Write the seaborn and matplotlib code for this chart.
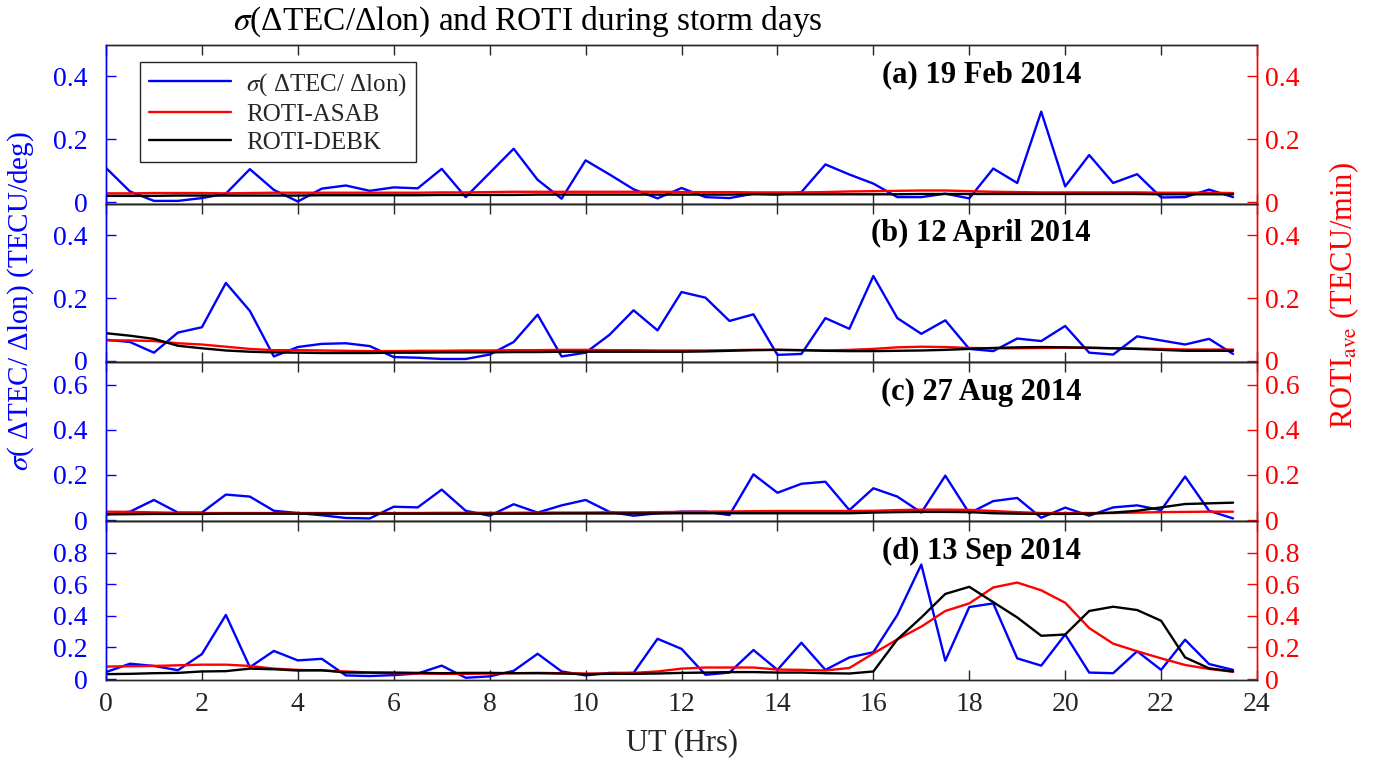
import numpy as np
import pandas as pd
import matplotlib
matplotlib.use("Agg")
import matplotlib.pyplot as plt
from matplotlib.ticker import FuncFormatter
import seaborn as sns

# UT in hours (30-min bins)
ut = [0.0, 0.5, 1.0, 1.5, 2.0, 2.5, 3.0, 3.5, 4.0, 4.5, 5.0, 5.5,
      6.0, 6.5, 7.0, 7.5, 8.0, 8.5, 9.0, 9.5, 10.0, 10.5, 11.0, 11.5,
      12.0, 12.5, 13.0, 13.5, 14.0, 14.5, 15.0, 15.5, 16.0, 16.5, 17.0, 17.5,
      18.0, 18.5, 19.0, 19.5, 20.0, 20.5, 21.0, 21.5, 22.0, 22.5, 23.0, 23.5]

panel_titles = ["(a) 19 Feb 2014", "(b) 12 April 2014", "(c) 27 Aug 2014", "(d) 13 Sep 2014"]

# (a) 19 Feb 2014
sigma_a = [0.109, 0.034, 0.004, 0.004, 0.013, 0.027, 0.105, 0.039, 0.002, 0.043, 0.053, 0.036,
           0.047, 0.044, 0.106, 0.016, 0.093, 0.170, 0.071, 0.011, 0.133, 0.088, 0.041, 0.012,
           0.045, 0.016, 0.013, 0.027, 0.024, 0.032, 0.120, 0.088, 0.059, 0.016, 0.016, 0.027,
           0.012, 0.107, 0.061, 0.288, 0.050, 0.150, 0.061, 0.089, 0.015, 0.016, 0.040, 0.016]
asab_a = [0.028, 0.028, 0.029, 0.029, 0.029, 0.028, 0.029, 0.030, 0.030, 0.030, 0.030, 0.030,
          0.030, 0.030, 0.031, 0.031, 0.032, 0.033, 0.033, 0.033, 0.033, 0.033, 0.033, 0.033,
          0.032, 0.032, 0.032, 0.031, 0.031, 0.031, 0.032, 0.034, 0.035, 0.036, 0.037, 0.037,
          0.035, 0.033, 0.032, 0.031, 0.031, 0.031, 0.031, 0.031, 0.030, 0.030, 0.030, 0.029]
debk_a = [0.020, 0.020, 0.020, 0.021, 0.021, 0.021, 0.021, 0.021, 0.021, 0.022, 0.022, 0.022,
          0.022, 0.022, 0.023, 0.023, 0.023, 0.023, 0.024, 0.024, 0.024, 0.024, 0.024, 0.024,
          0.024, 0.024, 0.024, 0.025, 0.025, 0.025, 0.025, 0.025, 0.025, 0.025, 0.026, 0.026,
          0.026, 0.026, 0.026, 0.026, 0.026, 0.026, 0.026, 0.026, 0.025, 0.025, 0.025, 0.025]

# (b) 12 April 2014
sigma_b = [0.067, 0.060, 0.026, 0.090, 0.107, 0.248, 0.159, 0.014, 0.044, 0.054, 0.056, 0.047,
           0.012, 0.010, 0.006, 0.006, 0.020, 0.060, 0.147, 0.014, 0.026, 0.083, 0.161, 0.097,
           0.219, 0.201, 0.127, 0.148, 0.019, 0.022, 0.136, 0.102, 0.270, 0.136, 0.086, 0.129,
           0.038, 0.031, 0.071, 0.063, 0.111, 0.026, 0.020, 0.078, 0.065, 0.052, 0.070, 0.022]
asab_b = [0.065, 0.065, 0.063, 0.056, 0.052, 0.045, 0.038, 0.034, 0.034, 0.033, 0.032, 0.031,
          0.031, 0.032, 0.032, 0.033, 0.033, 0.034, 0.034, 0.035, 0.035, 0.034, 0.034, 0.033,
          0.033, 0.033, 0.034, 0.035, 0.035, 0.034, 0.033, 0.035, 0.038, 0.043, 0.045, 0.044,
          0.041, 0.040, 0.040, 0.041, 0.042, 0.041, 0.040, 0.039, 0.038, 0.036, 0.036, 0.036]
debk_b = [0.088, 0.080, 0.070, 0.048, 0.040, 0.033, 0.029, 0.027, 0.026, 0.025, 0.025, 0.025,
          0.026, 0.026, 0.027, 0.027, 0.027, 0.028, 0.028, 0.029, 0.029, 0.029, 0.029, 0.029,
          0.029, 0.030, 0.032, 0.034, 0.035, 0.034, 0.032, 0.031, 0.031, 0.032, 0.033, 0.035,
          0.038, 0.041, 0.043, 0.044, 0.043, 0.042, 0.040, 0.038, 0.035, 0.032, 0.032, 0.032]

# (c) 27 Aug 2014
sigma_c = [0.025, 0.037, 0.089, 0.033, 0.033, 0.113, 0.104, 0.041, 0.031, 0.021, 0.009, 0.007,
           0.059, 0.056, 0.135, 0.041, 0.019, 0.070, 0.033, 0.065, 0.089, 0.036, 0.019, 0.030,
           0.037, 0.037, 0.022, 0.203, 0.121, 0.161, 0.170, 0.044, 0.141, 0.104, 0.033, 0.197,
           0.030, 0.084, 0.098, 0.010, 0.055, 0.019, 0.056, 0.065, 0.044, 0.193, 0.041, 0.007]
asab_c = [0.037, 0.036, 0.034, 0.032, 0.031, 0.031, 0.031, 0.031, 0.031, 0.031, 0.031, 0.031,
          0.031, 0.031, 0.032, 0.032, 0.032, 0.032, 0.033, 0.033, 0.033, 0.034, 0.034, 0.035,
          0.036, 0.037, 0.038, 0.039, 0.040, 0.040, 0.040, 0.040, 0.041, 0.044, 0.046, 0.046,
          0.045, 0.040, 0.035, 0.031, 0.031, 0.031, 0.031, 0.033, 0.035, 0.036, 0.037, 0.037]
debk_c = [0.025, 0.026, 0.027, 0.027, 0.027, 0.028, 0.028, 0.028, 0.028, 0.028, 0.028, 0.028,
          0.028, 0.028, 0.028, 0.028, 0.028, 0.028, 0.028, 0.029, 0.029, 0.029, 0.029, 0.029,
          0.030, 0.030, 0.030, 0.030, 0.030, 0.030, 0.030, 0.030, 0.033, 0.035, 0.036, 0.036,
          0.035, 0.030, 0.028, 0.027, 0.027, 0.028, 0.033, 0.041, 0.056, 0.071, 0.074, 0.077]

# (d) 13 Sep 2014
sigma_d = [0.044, 0.097, 0.083, 0.056, 0.158, 0.406, 0.075, 0.178, 0.118, 0.128, 0.023, 0.019,
           0.025, 0.035, 0.085, 0.008, 0.017, 0.052, 0.160, 0.048, 0.023, 0.039, 0.039, 0.255,
           0.191, 0.027, 0.041, 0.184, 0.058, 0.230, 0.058, 0.137, 0.170, 0.406, 0.725, 0.116,
           0.456, 0.479, 0.131, 0.085, 0.282, 0.041, 0.037, 0.176, 0.058, 0.249, 0.095, 0.058]
asab_d = [0.079, 0.081, 0.083, 0.087, 0.091, 0.091, 0.083, 0.066, 0.058, 0.054, 0.048, 0.041,
          0.037, 0.035, 0.033, 0.033, 0.035, 0.037, 0.039, 0.037, 0.035, 0.035, 0.039, 0.048,
          0.066, 0.073, 0.073, 0.073, 0.060, 0.058, 0.054, 0.070, 0.162, 0.251, 0.332, 0.431,
          0.479, 0.580, 0.611, 0.562, 0.483, 0.323, 0.224, 0.176, 0.131, 0.089, 0.064, 0.046]
debk_d = [0.031, 0.033, 0.037, 0.039, 0.048, 0.050, 0.066, 0.062, 0.054, 0.056, 0.041, 0.041,
          0.041, 0.039, 0.037, 0.039, 0.039, 0.037, 0.037, 0.035, 0.031, 0.033, 0.033, 0.035,
          0.039, 0.041, 0.044, 0.044, 0.041, 0.041, 0.037, 0.035, 0.048, 0.251, 0.390, 0.539,
          0.584, 0.487, 0.390, 0.274, 0.282, 0.431, 0.458, 0.437, 0.369, 0.137, 0.068, 0.048]

y_tops = [0.5, 0.5, 0.7, 1.0]
y_ticks = [[0, 0.2, 0.4], [0, 0.2, 0.4], [0, 0.2, 0.4, 0.6], [0, 0.2, 0.4, 0.6, 0.8]]
x_ticks = [0, 2, 4, 6, 8, 10, 12, 14, 16, 18, 20, 22, 24]

sigma_list = [sigma_a, sigma_b, sigma_c, sigma_d]
asab_list = [asab_a, asab_b, asab_c, asab_d]
debk_list = [debk_a, debk_b, debk_c, debk_d]

sns.set_theme(style="white")
plt.rcParams['font.family'] = ['Liberation Serif', 'DejaVu Serif']
plt.rcParams['mathtext.fontset'] = 'stix'

BLUE = '#0000ff'
RED = '#ff0000'
AXC = '#262626'
TICK_FS = 20

fmt = FuncFormatter(lambda v, p: '0' if abs(v) < 1e-9 else f'{v:.1f}')

fig, axes = plt.subplots(4, 1, figsize=(13.89, 7.63), dpi=100, sharex=True)
fig.subplots_adjust(left=0.0763, right=0.905, top=0.941, bottom=0.109, hspace=0)

sig_lbl = r'$\sigma$( ΔTEC/ Δlon)'
for i, ax in enumerate(axes):
    df = pd.DataFrame({"UT": ut, "sigma": sigma_list[i], "ASAB": asab_list[i], "DEBK": debk_list[i]})
    tw = ax.twinx()
    sns.lineplot(data=df, x="UT", y="sigma", ax=ax, color=BLUE, lw=1.7, label=sig_lbl)
    sns.lineplot(data=df, x="UT", y="ASAB", ax=tw, color=RED, lw=1.7, label='ROTI-ASAB')
    sns.lineplot(data=df, x="UT", y="DEBK", ax=tw, color='black', lw=1.7, label='ROTI-DEBK')
    for a in (ax, tw):
        if a.get_legend() is not None:
            a.get_legend().remove()
        a.set_ylim(-0.005, y_tops[i])
        a.set_yticks(y_ticks[i])
        a.yaxis.set_major_formatter(fmt)
        a.set_ylabel('')
        a.set_xlabel('')
    ax.set_xlim(0, 24)
    ax.set_xticks(x_ticks)
    ax.tick_params(axis='x', direction='in', top=True, bottom=True, length=7, width=1,
                   color=AXC, labelcolor=AXC, labelsize=TICK_FS, pad=9)
    ax.tick_params(axis='y', direction='in', length=7, width=1, color=BLUE,
                   labelcolor=BLUE, labelsize=TICK_FS, pad=13)
    tw.tick_params(axis='y', direction='in', length=7, width=1, color=RED,
                   labelcolor=RED, labelsize=TICK_FS, pad=6)
    for a in (ax, tw):
        a.spines['top'].set_color(AXC)
        a.spines['bottom'].set_color(AXC)
        a.spines['left'].set_color(BLUE)
        a.spines['right'].set_color(RED)
        for s in a.spines.values():
            s.set_linewidth(1.0)
    tw.text(18.25, 0.81, panel_titles[i], transform=ax.get_xaxis_transform(),
            ha='center', va='center', fontsize=22, fontweight='bold', color='black')
    if i == 0:
        handles = ax.get_lines()[:1] + tw.get_lines()[:2]
        leg = tw.legend(handles, [sig_lbl, 'ROTI-ASAB', 'ROTI-DEBK'], loc='upper left',
                        bbox_to_anchor=(0.0295, 0.893), borderaxespad=0, fontsize=18,
                        frameon=True, fancybox=False, handlelength=3.3, borderpad=0.35,
                        labelspacing=0.22, handletextpad=0.6)
        leg.get_frame().set_edgecolor(AXC)
        leg.get_frame().set_linewidth(1.0)
        leg.get_frame().set_alpha(1)

axes[-1].set_xlabel('UT (Hrs)', fontsize=22, color=AXC, labelpad=8)

fig.text(0.38, 0.972, r'$\sigma$(ΔTEC/Δlon) and ROTI during storm days', ha='center', va='center',
         fontsize=24, color='black')
fig.text(0.015, 0.605, r'$\sigma$( ΔTEC/ Δlon) (TECU/deg)', rotation=90, ha='center', va='center',
         fontsize=21, color=BLUE)
fig.text(0.968, 0.613, r'ROTI$_{\mathrm{ave}}$ (TECU/min)', rotation=90, ha='center', va='center',
         fontsize=22, color=RED)

fig.savefig('out.png', dpi=100)
plt.close(fig)
